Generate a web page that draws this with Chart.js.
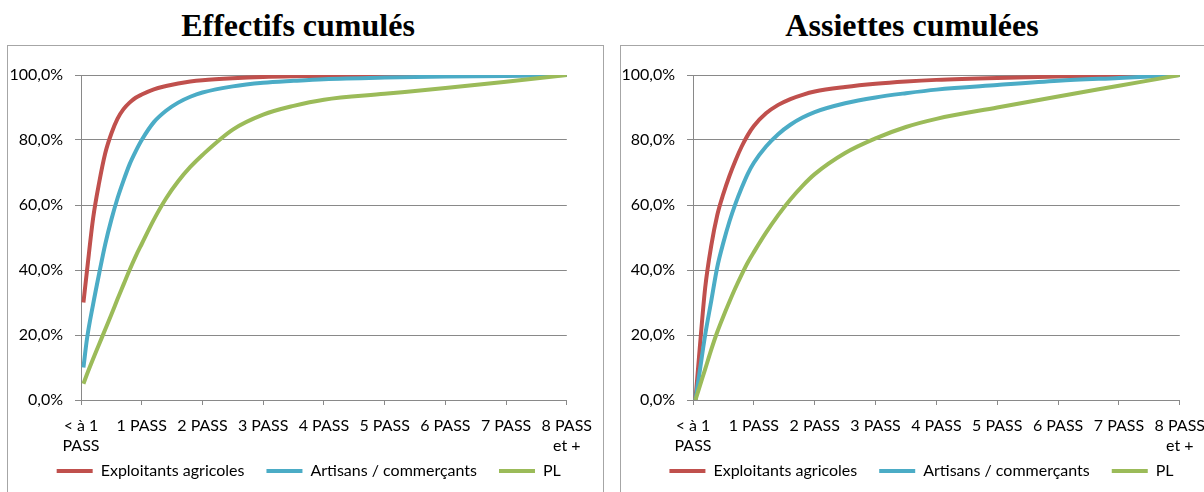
<!DOCTYPE html>
<html>
<head>
<meta charset="utf-8">
<script src="https://cdn.jsdelivr.net/npm/chart.js@4/dist/chart.umd.min.js"></script>
<style>
  html, body { margin: 0; padding: 0; background: #fff; width: 1204px; height: 492px; overflow: hidden; }
  .title {
    position: absolute; width: 400px; text-align: center;
    font-family: "Liberation Serif", "Times New Roman", serif;
    font-weight: bold; font-size: 32px; line-height: 32px; color: #000;
  }
  .panel {
    position: absolute; top: 45px; width: 597px; height: 460px;
    border: 1px solid #a6a6a6; box-sizing: border-box; background: #fff;
  }
  .panel canvas { display: block; }
</style>
</head>
<body>
<div class="title" style="left:98px; top:9px;">Effectifs cumulés</div>
<div class="title" style="left:712px; top:9px;">Assiettes cumulées</div>
<div class="panel" style="left:7px;"><canvas id="effectifsChart"></canvas></div>
<div class="panel" style="left:620px;"><canvas id="assiettesChart"></canvas></div>

<script>
// position of each point, in PASS
const categories = [0.04, 0.1, 0.2, 0.3, 0.4, 0.5, 0.6, 0.7, 0.8, 0.9, 1, 1.2, 1.4, 1.6, 1.8, 2, 2.5, 3, 3.5, 4, 5, 6, 7, 8];
const tickLabels = [['< à 1', 'PASS'], '1 PASS', '2 PASS', '3 PASS', '4 PASS', '5 PASS', '6 PASS', '7 PASS', ['8 PASS', 'et +']];
const seriesNames = ['Exploitants agricoles', 'Artisans / commerçants', 'PL'];
const seriesColors = ['#C0504D', '#4BACC6', '#9BBB59'];

// Effectifs cumulés (%)
const effExploitants = [30, 40, 56, 67, 76, 82, 86.5, 89.5, 91.5, 93, 94, 95.6, 96.6, 97.4, 98, 98.4, 99, 99.4, 99.6, 99.7, 99.8, 99.9, 99.95, 100];
const effArtisans    = [10, 19, 29.5, 39, 48, 55.5, 62, 67.5, 72.5, 76.5, 80, 85.5, 89, 91.5, 93.3, 94.6, 96.5, 97.6, 98.2, 98.7, 99.2, 99.5, 99.7, 100];
const effPL          = [5, 8, 12.7, 17.2, 21.8, 26.3, 31, 35.5, 40, 44.2, 48, 55.5, 62, 67.3, 71.7, 75.4, 83.2, 87.8, 90.5, 92.4, 94.2, 96, 97.9, 100];

// Assiettes cumulées (%)
const assExploitants = [0, 13.5, 34.5, 47.5, 57, 63.5, 69, 73.8, 78, 81.5, 84.3, 88.2, 90.8, 92.6, 93.9, 94.9, 96.3, 97.3, 98, 98.5, 99.1, 99.5, 99.8, 100];
const assArtisans    = [0, 7.5, 20, 30.5, 41, 48.5, 55, 60.5, 65.3, 69.6, 73, 78, 81.8, 84.7, 86.9, 88.6, 91.3, 93.1, 94.4, 95.5, 96.9, 98.2, 99.1, 100];
const assPL          = [0, 3.6, 9.5, 15.5, 21, 25.8, 30.3, 34.6, 38.6, 42.3, 45.5, 51.5, 56.9, 61.7, 65.9, 69.5, 76, 80.5, 84, 86.5, 90, 93.4, 96.7, 100];

const gridColor = '#898989';

Chart.defaults.font.family = 'Lato, "Open Sans", sans-serif';
Chart.defaults.font.size = 16;
Chart.defaults.color = '#000';

// the legend sits closer to the axis labels than Chart.js would put it
const legendOffset = {
    id: 'legendOffset',
    afterLayout(chart, args, opts) {
        const legend = chart.legend;
        legend.top += opts.dy; legend.bottom += opts.dy;
        legend.left += opts.dx; legend.right += opts.dx;
    }
};

function createCumulChart(canvasId, seriesList, yWidth, padRight) {
    const canvas = document.getElementById(canvasId);
    canvas.width = 595;
    canvas.height = 458;

    const datasets = seriesList.map((values, i) => ({
        label: seriesNames[i],
        data: values.map((v, j) => ({ x: categories[j], y: v })),
        borderColor: seriesColors[i],
        backgroundColor: seriesColors[i],
        borderWidth: 4,
        pointRadius: 0,
        fill: false,
        cubicInterpolationMode: 'monotone',
        order: seriesList.length - i // later series drawn on top, like Excel
    }));

    new Chart(canvas.getContext('2d'), {
        type: 'line',
        data: { datasets: datasets },
        plugins: [legendOffset],
        options: {
            responsive: false,
            animation: false,
            layout: { padding: { top: 29, right: padRight, bottom: 0, left: 0 } },
            scales: {
                x: {
                    type: 'linear',
                    min: 0,
                    max: 8,
                    grid: { drawOnChartArea: false, color: gridColor, tickLength: 5 },
                    border: { color: gridColor },
                    ticks: {
                        stepSize: 1,
                        autoSkip: false,
                        maxRotation: 0,
                        padding: 11,
                        font: { size: 16, lineHeight: 1.25 },
                        callback: (v) => tickLabels[v]
                    },
                    afterFit: (scale) => { scale.height = 56; }
                },
                y: {
                    min: 0,
                    max: 100,
                    grid: { color: gridColor, tickLength: 6 },
                    border: { color: gridColor },
                    ticks: {
                        stepSize: 20,
                        padding: 12,
                        callback: (v) => v.toFixed(1).replace('.', ',') + '%'
                    },
                    afterFit: (scale) => { scale.width = yWidth; }
                }
            },
            plugins: {
                tooltip: { enabled: false },
                legendOffset: { dx: 19, dy: -15 },
                legend: {
                    position: 'bottom',
                    labels: {
                        boxWidth: 36,
                        boxHeight: 4,
                        padding: 22,
                        color: '#000',
                        sort: (a, b) => a.datasetIndex - b.datasetIndex,
                        generateLabels: (chart) => Chart.defaults.plugins.legend.labels.generateLabels(chart)
                            .map(item => ({ ...item, lineWidth: 0 }))
                    }
                }
            }
        }
    });
}

document.addEventListener('DOMContentLoaded', () => {
    createCumulChart('effectifsChart', [effExploitants, effArtisans, effPL], 73, 31.5);
    createCumulChart('assiettesChart', [assExploitants, assArtisans, assPL], 72, 32);
});
</script>
</body>
</html>
